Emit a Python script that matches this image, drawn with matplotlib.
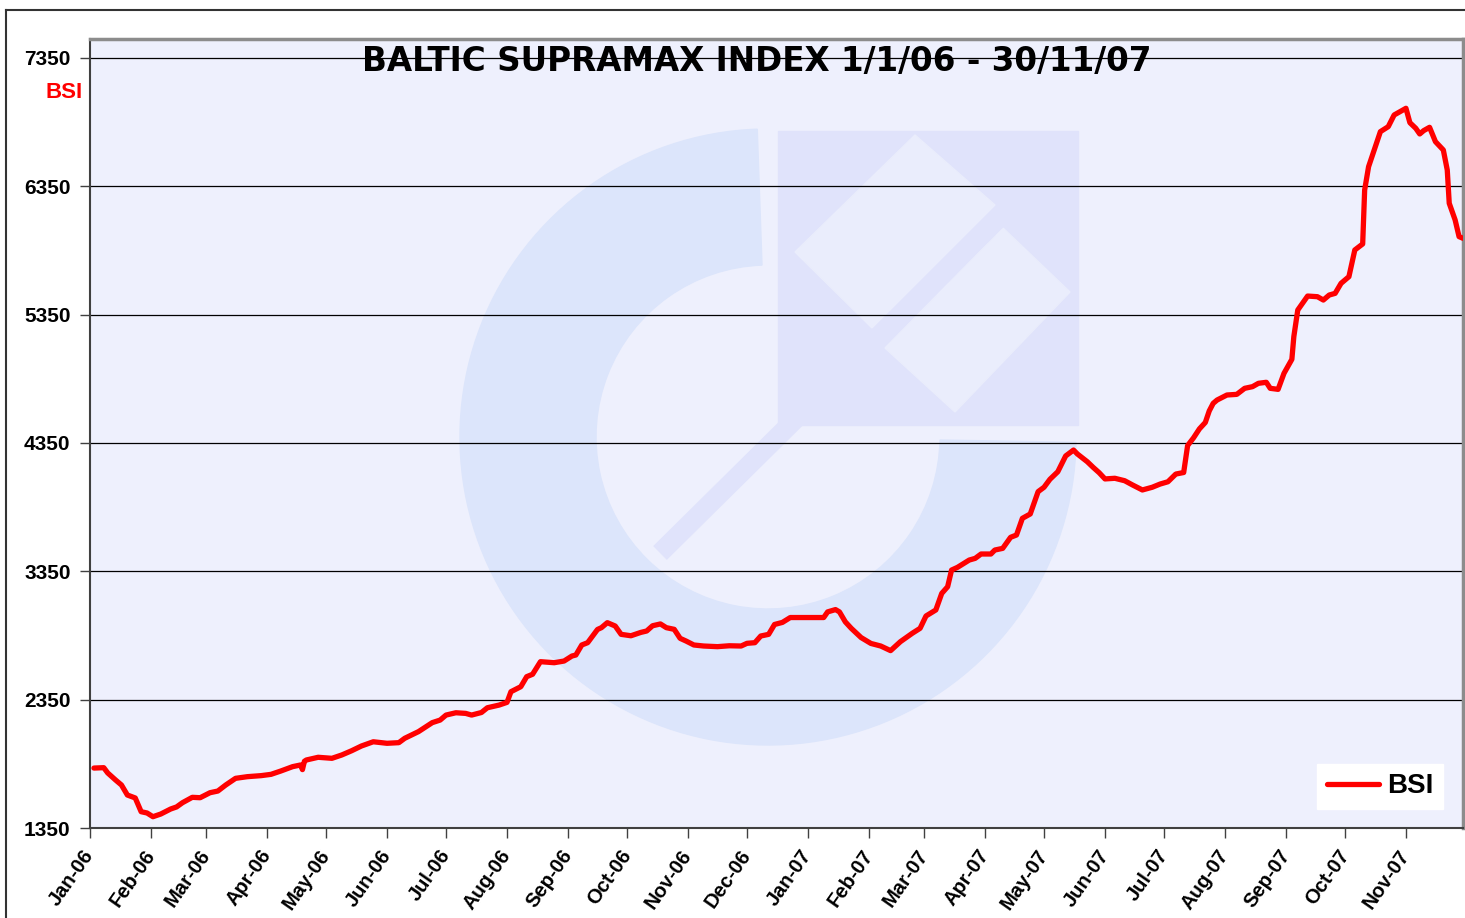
import pandas as pd
import matplotlib
matplotlib.use("Agg")
import matplotlib.pyplot as plt
from matplotlib.patches import Wedge, Polygon, Rectangle
from matplotlib.lines import Line2D

# BSI values (day offset from 1 Jan 2006)
days = [2, 7, 9, 13, 16, 19, 23, 26, 29, 32, 36, 41, 44, 47, 52, 56, 61, 65, 69, 74,
        80, 87, 92, 97, 103, 107, 108, 109, 110, 116, 123, 128, 133, 138, 144, 151, 157, 160, 167, 174,
        178, 181, 186, 191, 194, 199, 202, 208, 212, 214, 219, 222, 225, 229, 236, 241, 245, 247, 250, 253,
        258, 260, 263, 267, 270, 275, 280, 283, 286, 290, 293, 297, 300, 303, 307, 312, 319, 325, 331, 334,
        338, 341, 345, 348, 352, 356, 364, 373, 375, 379, 381, 384, 387, 392, 397, 402, 407, 412, 418, 422,
        425, 430, 433, 436, 438, 441, 447, 450, 453, 458, 460, 464, 468, 471, 474, 478, 482, 485, 488, 492,
        496, 500, 502, 507, 510, 513, 516, 521, 526, 530, 535, 540, 544, 548, 552, 556, 558, 561, 564, 567,
        569, 571, 573, 578, 583, 587, 591, 594, 598, 600, 604, 607, 611, 612, 614, 619, 624, 627, 630, 633,
        636, 640, 643, 647, 648, 650, 652, 656, 660, 663, 668, 669, 671, 674, 676, 678, 681, 684, 688, 690,
        691, 694, 696, 698]
bsi = [1817, 1820, 1779, 1724, 1685, 1607, 1584, 1477, 1467, 1438, 1459, 1498, 1514, 1547, 1589, 1586, 1625, 1638, 1685, 1737,
       1750, 1758, 1768, 1794, 1828, 1841, 1805, 1870, 1880, 1901, 1893, 1919, 1952, 1989, 2022, 2010, 2015, 2049, 2101, 2171,
       2191, 2230, 2248, 2243, 2230, 2250, 2287, 2308, 2329, 2412, 2451, 2529, 2548, 2646, 2638, 2651, 2690, 2698, 2776, 2794,
       2897, 2911, 2950, 2924, 2859, 2848, 2874, 2885, 2926, 2940, 2911, 2898, 2828, 2807, 2776, 2768, 2763, 2770, 2768, 2789,
       2794, 2846, 2859, 2936, 2952, 2990, 2990, 2990, 3034, 3052, 3034, 2956, 2906, 2834, 2788, 2768, 2732, 2802, 2867, 2906,
       3002, 3049, 3178, 3230, 3360, 3381, 3438, 3451, 3485, 3485, 3516, 3529, 3615, 3633, 3763, 3797, 3971, 4005, 4067, 4126,
       4249, 4295, 4264, 4204, 4160, 4119, 4070, 4075, 4056, 4023, 3984, 4005, 4030, 4048, 4108, 4120, 4330, 4390, 4460, 4510,
       4600, 4659, 4685, 4724, 4729, 4776, 4789, 4815, 4823, 4776, 4768, 4893, 5002, 5179, 5386, 5495, 5490, 5464, 5503, 5516,
       5594, 5646, 5854, 5901, 6321, 6503, 6594, 6776, 6815, 6906, 6950, 6958, 6846, 6802, 6758, 6784, 6810, 6698, 6633, 6477,
       6218, 6088, 5958, 5945]

y_ticks = [1350, 2350, 3350, 4350, 5350, 6350, 7350]
month_ticks = pd.date_range("2006-01-01", "2007-11-01", freq="MS")
month_labels = [d.strftime("%b-%y") for d in month_ticks]

start = pd.Timestamp("2006-01-01")
dates = start + pd.to_timedelta(days, unit="D")

W, H = 1465, 918
fig = plt.figure(figsize=(W / 100, H / 100), dpi=100)
L, R, B, T = 90 / W, 1463 / W, 1 - 828 / H, 1 - 39 / H

# background + faint logo watermark (pixel coordinates)
bg = fig.add_axes([L, B, R - L, T - B], zorder=0)
bg.set_xlim(90, 1463)
bg.set_ylim(828, 39)
bg.set_axis_off()
bg_col = "#EEF0FD"
wm_col = "#DCE5FB"
sq_col = "#E0E3FB"
lt_col = "#EAEDFC"
bg.add_patch(Rectangle((90, 39), 1373, 789, color=bg_col, zorder=0))
bg.add_patch(Wedge((768, 437), 308, 1, 268, width=136, color=wm_col, zorder=1))
bg.add_patch(Rectangle((778, 131), 300, 294, color=sq_col, zorder=1))
bg.add_patch(Polygon([(795, 252), (915, 135), (995, 205), (872, 328)], color=lt_col, zorder=2))
bg.add_patch(Polygon([(885, 348), (1003, 228), (1070, 292), (955, 412)], color=lt_col, zorder=2))
bg.plot([660, 1005], [553, 212], color=sq_col, lw=14, solid_capstyle="butt", zorder=3)

ax = fig.add_axes([L, B, R - L, T - B], zorder=1)
ax.set_facecolor("none")
ax.plot(dates, bsi, color="#FF0000", lw=3.8, solid_joinstyle="round",
        solid_capstyle="round", label="BSI", zorder=3)

ax.set_xlim(start, pd.Timestamp("2007-11-30"))
ax.set_ylim(1350, 7498)
ax.set_yticks(y_ticks)
ax.set_yticklabels([str(v) for v in y_ticks], fontsize=15, fontweight="bold",
                   family="Liberation Sans")
ax.set_xticks(month_ticks)
ax.set_xticklabels(month_labels, rotation=55, ha="right", va="center",
                   rotation_mode="anchor", fontsize=14.5, fontweight="bold",
                   family="Liberation Sans")
ax.yaxis.grid(True, color="black", lw=0.9)
ax.tick_params(axis="y", direction="out", length=7, width=1, color="#404040", pad=7)
ax.tick_params(axis="x", direction="out", length=7, width=1, color="#404040", pad=10)

for s in ["left", "bottom"]:
    ax.spines[s].set_color("#404040")
    ax.spines[s].set_linewidth(1.5)
for s in ["top", "right"]:
    ax.spines[s].set_color("#8C8C8C")
    ax.spines[s].set_linewidth(2.5)

fig.text(757 / W, 1 - 61 / H, "BALTIC SUPRAMAX INDEX 1/1/06 - 30/11/07",
         ha="center", va="center", fontsize=23.5, fontweight="bold", family="DejaVu Sans", zorder=5)
fig.text(83 / W, 1 - 92 / H, "BSI", ha="right", va="center", color="#FF0000",
         fontsize=16, fontweight="bold", family="Liberation Sans")

leg = ax.legend(loc="lower right", bbox_to_anchor=((1443 - 90) / 1373, (828 - 809) / 789),
                borderaxespad=0, fancybox=False, framealpha=1, edgecolor="white",
                handlelength=1.85, handletextpad=0.3, borderpad=0.35,
                prop={"family": "Liberation Sans", "weight": "bold", "size": 20})

# outer chart border (top and left only visible)
fig.add_artist(Line2D([6 / W, 6 / W], [0, 1 - 10 / H], color="#333333", lw=1.5))
fig.add_artist(Line2D([6 / W, 1], [1 - 10 / H, 1 - 10 / H], color="#333333", lw=1.5))

fig.savefig("out.png", dpi=100, facecolor="white")
